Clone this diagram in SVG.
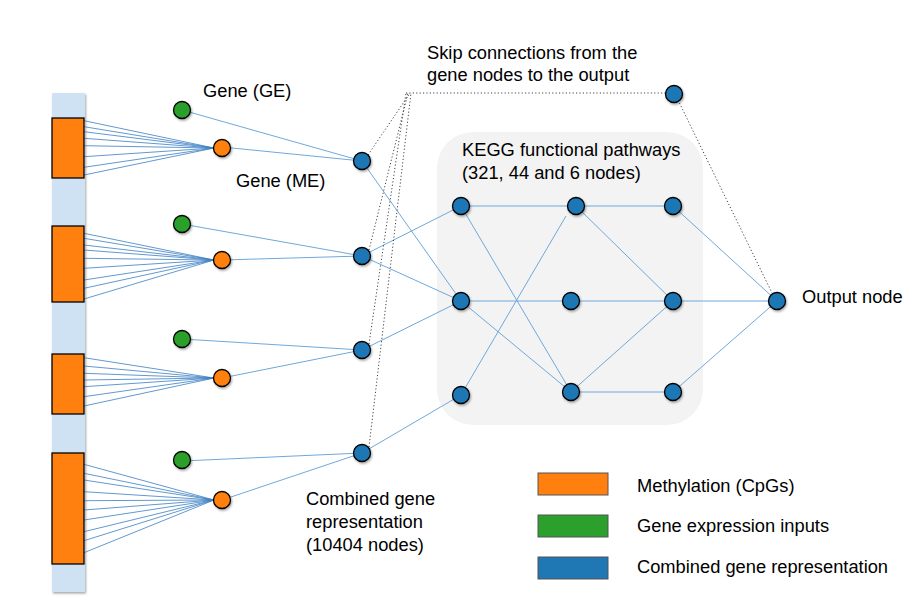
<svg xmlns="http://www.w3.org/2000/svg" width="915" height="607" viewBox="0 0 915 607">
<defs>
<filter id="sh" x="-50%" y="-50%" width="200%" height="200%">
<feDropShadow dx="1" dy="1.5" stdDeviation="1.2" flood-color="#000" flood-opacity="0.35"/>
</filter>
</defs>
<style>
text{font-family:"Liberation Sans",Arial,sans-serif;font-size:18.3px;fill:#000}
.c{stroke:#6fa8dc;stroke-width:1;fill:none}
.f{stroke:#3d7fc4;stroke-width:0.9;fill:none;opacity:0.9}
.d{stroke:#444;stroke-width:1;stroke-dasharray:1.2 2.2;fill:none}
.n{stroke:#000;stroke-width:1.3;filter:url(#sh)}
.b{fill:#1f77b4}
.o{fill:#ff800e}
.g{fill:#2ca02c}
.leg{stroke:#555;stroke-width:1}
</style>
<rect width="915" height="607" fill="#fff"/>
<rect id="strip" x="52" y="93" width="33" height="499" fill="#cfe2f3" filter="url(#sh)"/>
<g id="kegg-box"><rect x="437" y="132" width="266" height="293" rx="36" fill="#f3f3f3"/></g>

<g id="connectors">
<g id="fans">
<path class="f" d="M84 120.7L214 148M84 126.7L214 148M84 131.7L214 148M84 138.3L214 148M84 145.7L214 148M84 156.7L214 148M84 167.3L214 148M84 175L214 148"/>
<path class="f" d="M84 233.3L214 260M84 238.3L214 260M84 245L214 260M84 250L214 260M84 258.3L214 260M84 268.3L214 260M84 280L214 260M84 288.3L214 260M84 299L214 260"/>
<path class="f" d="M84 357.7L214 378M84 366L214 378M84 373.3L214 378M84 380L214 378M84 386.7L214 378M84 396.7L214 378M84 406L214 378"/>
<path class="f" d="M84 464.3L214 500M84 473.3L214 500M84 480L214 500M84 491.7L214 500M84 500.7L214 500M84 510L214 500M84 520L214 500M84 531.7L214 500M84 540.7L214 500M84 552.7L214 500"/>
</g>
<path class="c" d="M182 110L362 161M222 147L362 161M182 224L362 256M222 260L362 256M182 339L362 350M222 378L362 350M182 461L362 453M222 500L362 453"/>
<path class="c" d="M362 161L461 301M362 256L461 206M362 256L461 301M362 350L461 301M362 453L461 395"/>
<path class="c" d="M461 206L576 206M461 206L571 392M461 301L571 301M461 301L571 392M461 395L566 216"/>
<path class="c" d="M576 206L673 206M576 206L673 301M571 301L673 301M571 392L673 301M571 392L673 392"/>
<path class="c" d="M673 206L777 301M673 301L777 301M673 392L777 301"/>
<g id="skip">
<path class="d" d="M368 155L410 93M369 250L408 93M369 344L406 93M369 447L411 93M406 93L666 93M678 100L773 295"/>
</g>
</g>

<g id="gene-ME-blocks">
<rect class="o" x="52" y="118" width="32" height="60" stroke="#000" stroke-width="1.3"/>
<rect class="o" x="52" y="226" width="32" height="76" stroke="#000" stroke-width="1.3"/>
<rect class="o" x="52" y="354" width="32" height="60" stroke="#000" stroke-width="1.3"/>
<rect class="o" x="52" y="453" width="32" height="111" stroke="#000" stroke-width="1.3"/>
</g>

<g id="green-nodes">
<circle id="ge1" class="n g" cx="182" cy="110" r="8.5"/>
<circle id="ge2" class="n g" cx="182" cy="224" r="8.5"/>
<circle id="ge3" class="n g" cx="182" cy="339" r="8.5"/>
<circle id="ge4" class="n g" cx="182" cy="460" r="8.5"/>
</g>
<g id="orange-nodes">
<circle id="me1" class="n o" cx="222" cy="148" r="8.5"/>
<circle id="me2" class="n o" cx="222" cy="260" r="8.5"/>
<circle id="me3" class="n o" cx="222" cy="378" r="8.5"/>
<circle id="me4" class="n o" cx="222" cy="500" r="8.5"/>
</g>
<g id="combined-nodes">
<circle id="cg1" class="n b" cx="362" cy="161" r="8.5"/>
<circle id="cg2" class="n b" cx="362" cy="256" r="8.5"/>
<circle id="cg3" class="n b" cx="362" cy="350" r="8.5"/>
<circle id="cg4" class="n b" cx="362" cy="453" r="8.5"/>
</g>
<g id="pathway-nodes">
<circle id="p11" class="n b" cx="461" cy="206" r="8.5"/>
<circle id="p12" class="n b" cx="461" cy="301" r="8.5"/>
<circle id="p13" class="n b" cx="461" cy="395" r="8.5"/>
<circle id="p21" class="n b" cx="576" cy="206" r="8.5"/>
<circle id="p22" class="n b" cx="571" cy="301" r="8.5"/>
<circle id="p23" class="n b" cx="571" cy="392" r="8.5"/>
<circle id="p31" class="n b" cx="673" cy="206" r="8.5"/>
<circle id="p32" class="n b" cx="673" cy="301" r="8.5"/>
<circle id="p33" class="n b" cx="673" cy="392" r="8.5"/>
</g>
<g id="skip-node"><circle class="n b" cx="674" cy="94" r="8.5"/></g>
<g id="output-node"><circle class="n b" cx="777" cy="301" r="8.5"/></g>

<g id="labels">
<text x="203" y="97">Gene (GE)</text>
<text x="236" y="187">Gene (ME)</text>
<text x="427" y="59">Skip connections from the</text>
<text x="427" y="81">gene nodes to the output</text>
<text x="462" y="156">KEGG functional pathways</text>
<text x="462" y="179">(321, 44 and 6 nodes)</text>
<text x="802" y="303">Output node</text>
<text x="306" y="505">Combined gene</text>
<text x="306" y="528">representation</text>
<text x="306" y="551">(10404 nodes)</text>
</g>

<g id="legend">
<rect class="leg o" x="538" y="473" width="70" height="22"/>
<rect class="leg g" x="538" y="515" width="70" height="22"/>
<rect class="leg b" x="538" y="557" width="70" height="22"/>
<text x="637" y="492">Methylation (CpGs)</text>
<text x="637" y="532">Gene expression inputs</text>
<text x="637" y="573">Combined gene representation</text>
</g>
</svg>
